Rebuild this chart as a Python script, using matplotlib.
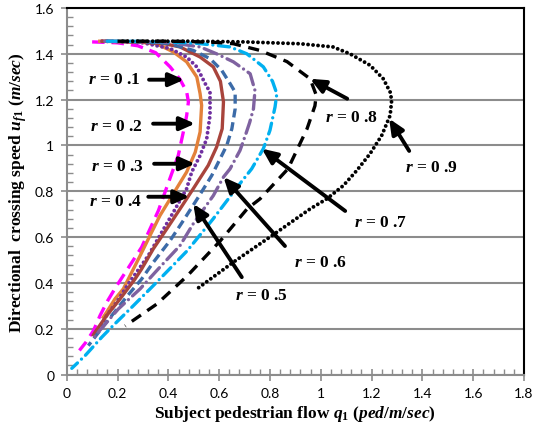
import numpy as np
import matplotlib
matplotlib.use('Agg')
import matplotlib.pyplot as plt
from matplotlib.ticker import MultipleLocator, FuncFormatter

plt.rcParams['mathtext.fontset'] = 'custom'
plt.rcParams['mathtext.rm'] = 'Liberation Serif:bold'
plt.rcParams['mathtext.it'] = 'Liberation Serif:italic:bold'
plt.rcParams['mathtext.bf'] = 'Liberation Serif:bold'
plt.rcParams['lines.scale_dashes'] = False

# r = 0.1 ... 0.9 (q = flow, u = speed)
q1 = [0.10, 0.20, 0.28, 0.35, 0.407, 0.445, 0.472, 0.479, 0.472, 0.459, 0.439, 0.42, 0.394, 0.361, 0.328, 0.295, 0.245, 0.197, 0.16, 0.131, 0.105, 0.075, 0.05]
u1 = [1.452, 1.448, 1.435, 1.405, 1.343, 1.29, 1.235, 1.19, 1.13, 1.059, 0.956, 0.898, 0.818, 0.716, 0.636, 0.556, 0.47, 0.388, 0.32, 0.257, 0.191, 0.14, 0.105]

q2 = [0.13, 0.20, 0.30, 0.354, 0.42, 0.472, 0.512, 0.525, 0.531, 0.525, 0.506, 0.472, 0.42, 0.367, 0.328, 0.289, 0.223, 0.19, 0.157, 0.144]
u2 = [1.455, 1.453, 1.45, 1.444, 1.408, 1.365, 1.299, 1.226, 1.175, 1.059, 0.971, 0.884, 0.79, 0.694, 0.607, 0.519, 0.374, 0.33, 0.272, 0.25]

q3 = [0.14, 0.20, 0.30, 0.407, 0.472, 0.512, 0.545, 0.564, 0.564, 0.551, 0.525, 0.492, 0.472, 0.42, 0.374, 0.321, 0.243, 0.197, 0.157, 0.118]
u3 = [1.455, 1.453, 1.448, 1.423, 1.386, 1.343, 1.27, 1.233, 1.131, 1.029, 0.956, 0.884, 0.811, 0.709, 0.621, 0.519, 0.396, 0.316, 0.257, 0.184]

q4 = [0.14, 0.20, 0.30, 0.38, 0.446, 0.525, 0.577, 0.605, 0.617, 0.612, 0.59, 0.557, 0.498, 0.446, 0.394, 0.341, 0.295, 0.269, 0.21, 0.157, 0.111, 0.105]
u4 = [1.455, 1.454, 1.45, 1.445, 1.43, 1.386, 1.343, 1.28, 1.19, 1.073, 0.993, 0.913, 0.811, 0.723, 0.636, 0.549, 0.461, 0.417, 0.33, 0.257, 0.184, 0.173]

q5 = [0.15, 0.20, 0.30, 0.40, 0.498, 0.564, 0.61, 0.643, 0.663, 0.663, 0.65, 0.63, 0.597, 0.571, 0.518, 0.459, 0.407, 0.341, 0.295, 0.24, 0.19, 0.14, 0.085]
u5 = [1.455, 1.454, 1.452, 1.445, 1.415, 1.379, 1.328, 1.27, 1.233, 1.16, 1.073, 1.0, 0.927, 0.869, 0.774, 0.672, 0.585, 0.49, 0.417, 0.345, 0.275, 0.205, 0.126]

q6 = [0.15, 0.20, 0.30, 0.40, 0.525, 0.59, 0.656, 0.722, 0.741, 0.735, 0.72, 0.705, 0.682, 0.643, 0.617, 0.577, 0.498, 0.446, 0.367, 0.289, 0.203, 0.118, 0.11]
u6 = [1.455, 1.454, 1.453, 1.45, 1.43, 1.40, 1.365, 1.313, 1.24, 1.16, 1.10, 1.05, 0.978, 0.898, 0.862, 0.781, 0.658, 0.563, 0.469, 0.374, 0.286, 0.177, 0.165]

q7 = [0.16, 0.20, 0.30, 0.40, 0.52, 0.643, 0.709, 0.774, 0.81, 0.827, 0.82, 0.80, 0.774, 0.728, 0.683, 0.576, 0.474, 0.355, 0.261, 0.182, 0.138, 0.072, 0.02]
u7 = [1.455, 1.455, 1.454, 1.452, 1.445, 1.43, 1.40, 1.343, 1.28, 1.226, 1.168, 1.066, 0.986, 0.898, 0.835, 0.679, 0.54, 0.404, 0.299, 0.213, 0.163, 0.082, 0.027]

q8 = [0.20, 0.30, 0.40, 0.50, 0.60, 0.656, 0.76, 0.867, 0.958, 0.982, 0.977, 0.946, 0.871, 0.761, 0.71, 0.604, 0.474, 0.355, 0.23]
u8 = [1.455, 1.455, 1.455, 1.453, 1.449, 1.444, 1.415, 1.366, 1.291, 1.22, 1.173, 1.073, 0.898, 0.767, 0.723, 0.583, 0.43, 0.308, 0.212]

q9 = [0.22, 0.3, 0.5, 0.7, 0.918, 1.048, 1.115, 1.194, 1.246, 1.273, 1.279, 1.273, 1.24, 1.194, 1.142, 1.089, 1.024, 0.958, 0.827, 0.663, 0.513]
u9 = [1.455, 1.455, 1.455, 1.452, 1.444, 1.43, 1.40, 1.35, 1.291, 1.233, 1.197, 1.131, 1.044, 0.964, 0.891, 0.825, 0.767, 0.723, 0.621, 0.496, 0.374]

labels = ['0 .1', '0 .2', '0 .3', '0 .4', '0 .5', '0 .6', '0 .7', '0 .8', '0 .9']
# label centre, arrow tail, arrow tip
text_xy = [(0.186, 1.292), (0.195, 1.086), (0.20, 0.911), (0.194, 0.758), (0.767, 0.347),
           (0.997, 0.492), (1.234, 0.667), (1.12, 1.125), (1.434, 0.906)]
tail_xy = [(0.324, 1.287), (0.34, 1.095), (0.344, 0.92), (0.321, 0.776), (0.689, 0.425),
           (0.859, 0.561), (1.096, 0.714), (1.104, 1.204), (1.348, 0.976)]
tip_xy = [(0.462, 1.287), (0.505, 1.095), (0.505, 0.92), (0.483, 0.776), (0.498, 0.745),
          (0.617, 0.862), (0.768, 0.986), (0.958, 1.291), (1.269, 1.117)]

fig = plt.figure(figsize=(5.35, 4.39), dpi=100)
ax = fig.add_axes([0.1247, 0.1446, 0.8548, 0.8349])

lw = 2.4
ax.plot(q1, u1, color='#FF00FF', lw=lw, dashes=(9, 5))
ax.plot(q2, u2, color='#E3813A', lw=lw)
ax.plot(q3, u3, color='#7030A0', lw=2.8, dashes=(0.01, 3.6), dash_capstyle='round')
ax.plot(q4, u4, color='#A8443C', lw=lw)
ax.plot(q5, u5, color='#3C6BA8', lw=lw, dashes=(6.5, 3.5))
ax.plot(q6, u6, color='#7F62A0', lw=lw, dashes=(10, 4, 0.01, 4), dash_capstyle='round')
ax.plot(q7, u7, color='#00B0F0', lw=lw, dashes=(8, 4, 0.01, 4), dash_capstyle='round')
ax.plot(q8, u8, color='black', lw=lw, dashes=(8, 5.5))
ax.plot(q9, u9, color='black', lw=2.8, dashes=(0.01, 3.6), dash_capstyle='round')

for lab, t, a, b in zip(labels, text_xy, tail_xy, tip_xy):
    ax.text(t[0], t[1], '$r$ = ' + lab, fontsize=12.5, fontweight='bold',
            family='Liberation Serif', ha='center', va='center')
    ax.annotate('', xy=b, xytext=a,
                arrowprops=dict(arrowstyle='-|>, head_length=0.45, head_width=0.2',
                                color='black', lw=2.8, shrinkA=0, shrinkB=0,
                                mutation_scale=20))

ax.set_xlim(0, 1.8)
ax.set_ylim(0, 1.6)
ax.xaxis.set_major_locator(MultipleLocator(0.2))
ax.yaxis.set_major_locator(MultipleLocator(0.2))
ax.xaxis.set_minor_locator(MultipleLocator(0.04))
ax.yaxis.set_minor_locator(MultipleLocator(0.04))
fmt = FuncFormatter(lambda v, p: '{:g}'.format(round(v, 2)))
ax.xaxis.set_major_formatter(fmt)
ax.yaxis.set_major_formatter(fmt)

gray = '#8C8C8C'
ax.yaxis.grid(True, color=gray, lw=1.5)
ax.set_axisbelow(True)
for s in ['left', 'bottom']:
    ax.spines[s].set_color(gray)
    ax.spines[s].set_linewidth(1.5)
for s in ['top', 'right']:
    ax.spines[s].set_color('black')
    ax.spines[s].set_linewidth(1.5)

ax.tick_params(which='major', direction='inout', length=8, width=1.2, color=gray,
               labelsize=10, pad=5)
ax.tick_params(which='minor', direction='in', length=4, width=1, color=gray)
for t in ax.get_xticklabels() + ax.get_yticklabels():
    t.set_family('Lato')

ax.set_xlabel('Subject pedestrian flow $q_1$ $(ped/m/sec)$', fontsize=12.5,
              fontweight='bold', family='Liberation Serif', labelpad=3)
ax.set_ylabel('Directional  crossing speed $u_{f1}$ $(m/sec)$', fontsize=12.5,
              fontweight='bold', family='Liberation Serif', labelpad=4)

fig.savefig('out.png', dpi=100)
